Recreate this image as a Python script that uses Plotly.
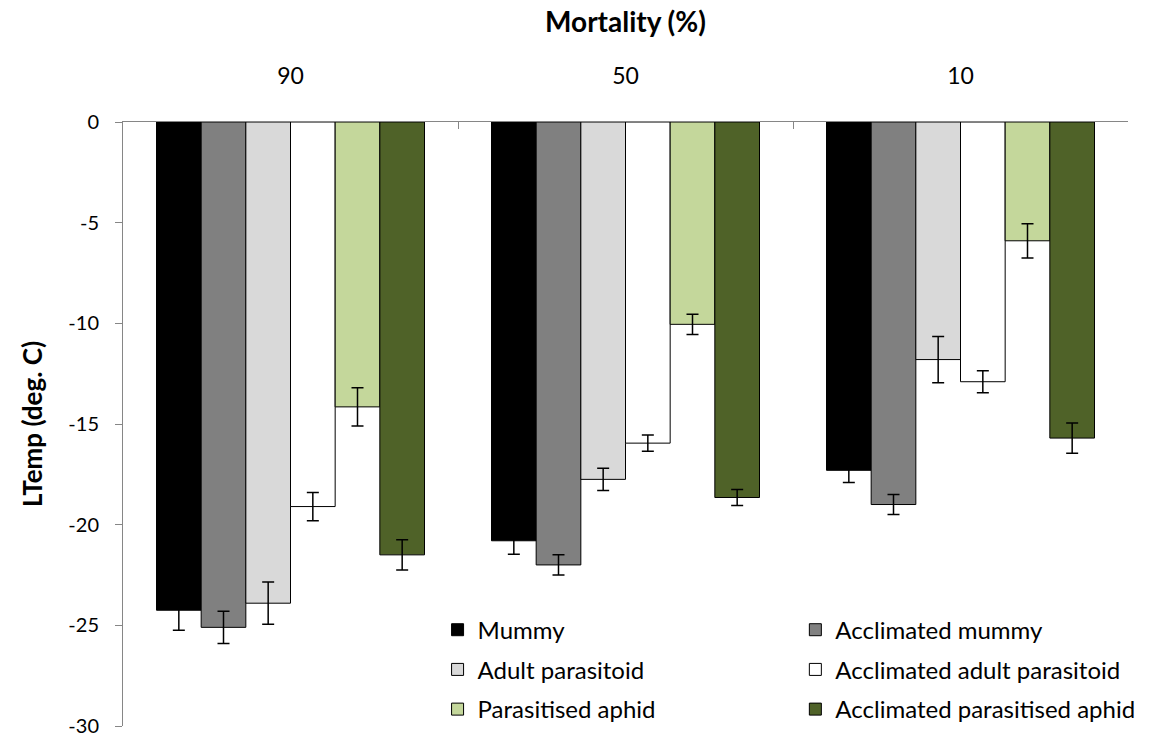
import plotly.graph_objects as go

categories = ["90", "50", "10"]
series_names = ["Mummy", "Acclimated mummy", "Adult parasitoid",
                "Acclimated adult parasitoid", "Parasitised aphid",
                "Acclimated parasitised aphid"]
mummy = [-24.25, -20.8, -17.3]
mummy_err = [1.0, 0.67, 0.6]
accl_mummy = [-25.1, -22.0, -19.0]
accl_mummy_err = [0.8, 0.5, 0.5]
adult = [-23.9, -17.75, -11.8]
adult_err = [1.05, 0.55, 1.15]
accl_adult = [-19.1, -15.95, -12.9]
accl_adult_err = [0.7, 0.4, 0.55]
paras = [-14.15, -10.05, -5.9]
paras_err = [0.95, 0.5, 0.85]
accl_paras = [-21.5, -18.65, -15.7]
accl_paras_err = [0.75, 0.4, 0.75]

y_tick_values = [0, -5, -10, -15, -20, -25, -30]
y_tick_labels = ["0", "-5", "-10", "-15", "-20", "-25", "-30"]

values = [mummy, accl_mummy, adult, accl_adult, paras, accl_paras]
errors = [mummy_err, accl_mummy_err, adult_err, accl_adult_err, paras_err, accl_paras_err]
colors = ["#000000", "#808080", "#D9D9D9", "#FFFFFF", "#C4D79B", "#4F6228"]
legend_ids = ["legend", "legend2", "legend", "legend2", "legend", "legend2"]

FONT = "Lato"
fig = go.Figure()
for i, name in enumerate(series_names):
    fig.add_trace(go.Bar(
        name=name, x=categories, y=values[i],
        marker=dict(color=colors[i], line=dict(color="#000000", width=1)),
        error_y=dict(type="data", array=errors[i], visible=True,
                     color="#000000", thickness=1.5, width=6),
        legend=legend_ids[i], legendgroup=name,
    ))

legend_common = dict(orientation="v", font=dict(family=FONT, size=24, color="#000000"),
                     bgcolor="rgba(0,0,0,0)", tracegroupgap=5.5,
                     xanchor="left", yanchor="top")
fig.update_layout(
    width=1150, height=738,
    margin=dict(l=123, r=22, t=122, b=12, autoexpand=False),
    paper_bgcolor="white", plot_bgcolor="white",
    barmode="group", bargap=0.2, bargroupgap=0,
    font=dict(family=FONT, color="#000000"),
    legend=dict(x=0.313, y=0.196, **legend_common),
    legend2=dict(x=0.669, y=0.196, **legend_common),
    xaxis=dict(side="top", type="category", tickson="boundaries",
               automargin=False,
               ticks="inside", ticklen=7, tickcolor="#868686", tickwidth=1,
               showline=True, linecolor="#868686", linewidth=1,
               tickfont=dict(family=FONT, size=23, color="#000000"),
               ticklabelstandoff=28,
               title=dict(text="<b>Mortality (%)</b>", standoff=19,
                          font=dict(family=FONT, size=28, color="#000000")),
               showgrid=False, zeroline=False),
    yaxis=dict(range=[-30, 0], tickmode="array",
               tickvals=y_tick_values, ticktext=y_tick_labels,
               automargin=False, ticklabeloverflow="allow",
               ticks="outside", ticklen=7, tickcolor="#868686", tickwidth=1,
               showline=True, linecolor="#868686", linewidth=1,
               tickfont=dict(family=FONT, size=20, color="#000000"),
               ticklabelstandoff=12,
               title=dict(text="<b>LTemp (deg. C)</b>", standoff=18,
                          font=dict(family=FONT, size=26, color="#000000")),
               showgrid=False, zeroline=False),
)

fig.write_html("out.html")
